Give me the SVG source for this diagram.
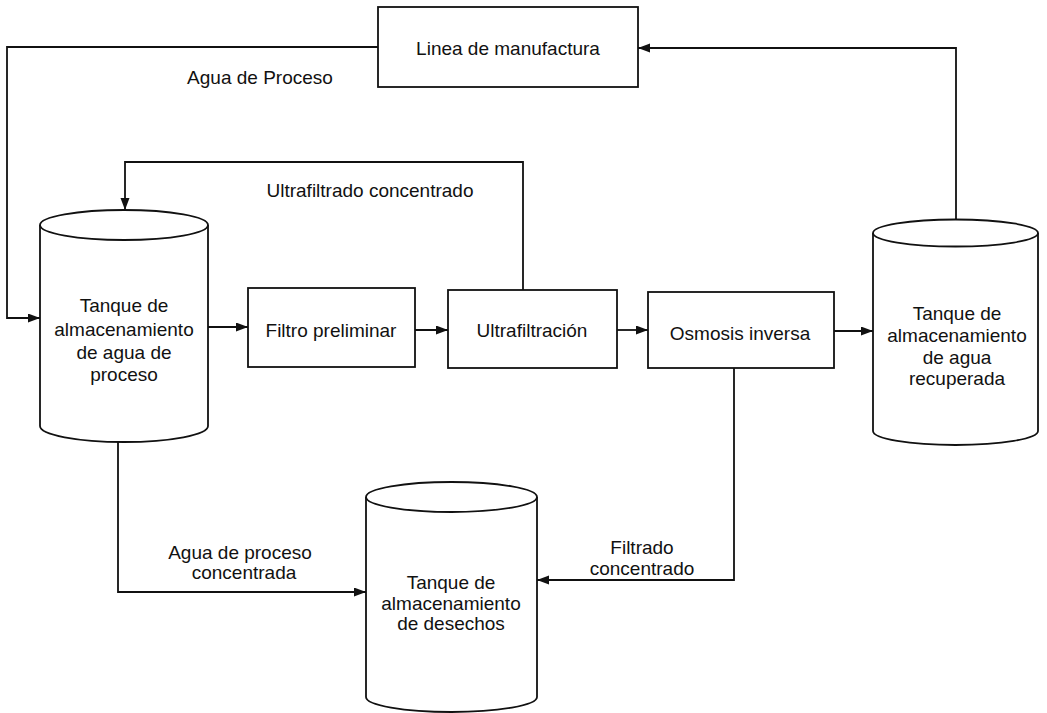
<svg xmlns="http://www.w3.org/2000/svg" width="1047" height="713" viewBox="0 0 1047 713">
  <style>
    .shape { fill: #ffffff; stroke: #111111; stroke-width: 1.8; }
    .wire { fill: none; stroke: #111111; stroke-width: 1.8; }
    .arrow { marker-end: url(#head); }
    text { font-family: "Liberation Sans", Arial, Helvetica, sans-serif; font-size: 19px; fill: #111111; text-anchor: middle; }
  </style>
  <defs>
    <marker id="head" markerUnits="userSpaceOnUse" markerWidth="13" markerHeight="10" refX="12" refY="4.5" orient="auto">
      <path d="M0,0 L12,4.5 L0,9 Z" fill="#111111"/>
    </marker>
  </defs>

  <rect width="1047" height="713" fill="#ffffff"/>

  <!-- flow lines -->
  <g id="connectors">
    <path class="wire arrow" d="M378,47 H7 V318 H40"/>
    <path class="wire arrow" d="M956,220 V48 H638"/>
    <path class="wire arrow" d="M523,290 V162 H125 V210"/>
    <path class="wire arrow" d="M208,327 H248"/>
    <path class="wire arrow" d="M415,330 H448"/>
    <path class="wire arrow" d="M617,330 H648"/>
    <path class="wire arrow" d="M834,331 H873"/>
    <path class="wire arrow" d="M734,368 V580 H537"/>
    <path class="wire arrow" d="M118,441 V592 H366"/>
    <text x="260" y="84">Agua de Proceso</text>
    <text x="370" y="197">Ultrafiltrado concentrado</text>
    <text x="240" y="559">Agua de proceso</text>
    <text x="244" y="579">concentrada</text>
    <text x="642" y="554">Filtrado</text>
    <text x="642" y="575">concentrado</text>
  </g>

  <g id="linea-manufactura">
    <rect class="shape" x="378" y="7" width="260" height="80"/>
    <text x="508" y="55">Linea de manufactura</text>
  </g>

  <g id="tanque-proceso">
    <path class="shape" d="M40,225 V426 A84,16 0 0 0 208,426 V225"/>
    <ellipse class="shape" cx="124" cy="225" rx="84" ry="15"/>
    <text x="124" y="312">Tanque de</text>
    <text x="124" y="336">almacenamiento</text>
    <text x="124" y="359">de agua de</text>
    <text x="124" y="381">proceso</text>
  </g>

  <g id="filtro-preliminar">
    <rect class="shape" x="248" y="288" width="167" height="79"/>
    <text x="331" y="337">Filtro preliminar</text>
  </g>

  <g id="ultrafiltracion">
    <rect class="shape" x="448" y="290" width="169" height="78"/>
    <text x="532" y="337">Ultrafiltración</text>
  </g>

  <g id="osmosis-inversa">
    <rect class="shape" x="648" y="292" width="186" height="76"/>
    <text x="740" y="340">Osmosis inversa</text>
  </g>

  <g id="tanque-recuperada">
    <path class="shape" d="M873,233 V431 A82.5,14 0 0 0 1038,431 V233"/>
    <ellipse class="shape" cx="955.5" cy="233" rx="82.5" ry="13.5"/>
    <text x="957" y="320">Tanque de</text>
    <text x="957" y="342">almacenamiento</text>
    <text x="957" y="364">de agua</text>
    <text x="957" y="385">recuperada</text>
  </g>

  <g id="tanque-desechos">
    <path class="shape" d="M366,497 V697 A85.5,15 0 0 0 537,697 V497"/>
    <ellipse class="shape" cx="451.5" cy="497" rx="85.5" ry="15"/>
    <text x="451" y="589">Tanque de</text>
    <text x="451" y="610">almacenamiento</text>
    <text x="451" y="630">de desechos</text>
  </g>
</svg>
